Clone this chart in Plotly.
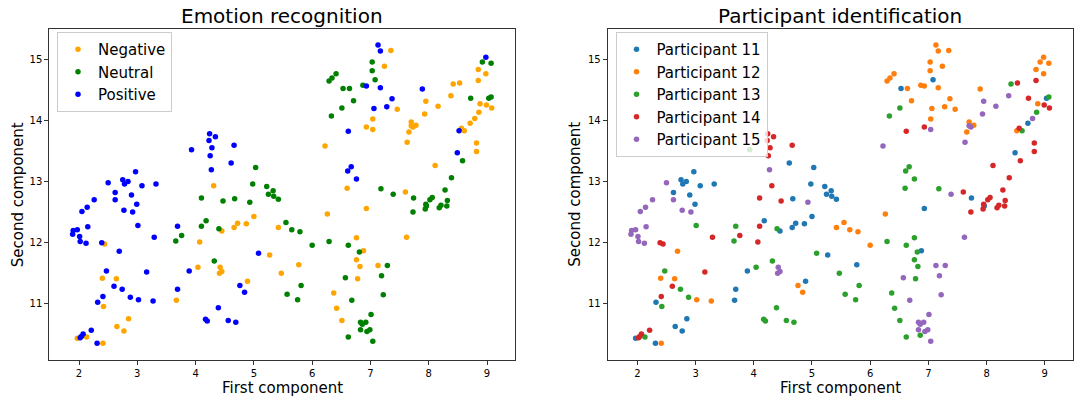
import plotly.graph_objects as go

# UMAP-style 2D embedding, one entry per sample
first_component = [
    4.24, 4.23, 4.34, 4.28, 3.93, 4.66, 4.25, 4.61, 4.27, 2.97, 2.50, 2.75, 2.84, 2.78, 3.08,
    3.32, 2.62, 2.90, 2.26, 2.62, 4.31, 5.03, 4.98, 5.22, 5.25, 5.33, 5.34, 5.42, 2.77, 2.92,
    2.99, 2.05, 2.14, 2.15, 3.01, 3.69, 3.29, 1.89, 1.90, 1.97, 2.01, 2.02, 2.12, 2.39, 2.69,
    2.47, 3.16, 3.89, 2.60, 2.74, 3.69, 2.41, 2.32, 2.88, 3.02, 3.27, 4.39, 4.76, 4.84, 4.17,
    4.20, 4.56, 4.69, 2.21, 2.07, 2.04, 2.02, 2.31, 2.44, 2.40, 2.64, 2.42, 2.85, 2.65, 2.77,
    1.97, 2.13, 2.41, 3.67, 4.07, 4.04, 4.42, 4.45, 4.41, 4.72, 4.66, 4.45, 4.87, 5.00, 4.89,
    5.27, 4.10, 4.47, 4.67, 4.93, 4.10, 4.18, 4.40, 3.76, 3.66, 4.32, 5.08, 7.13, 7.17, 8.98,
    6.93, 7.17, 7.89, 7.37, 7.06, 7.28, 6.62, 8.52, 8.49, 6.67, 6.61, 6.76, 6.60, 7.35, 7.24,
    6.22, 6.93, 7.04, 7.04, 7.46, 7.95, 7.93, 8.16, 8.42, 8.53, 8.38, 8.85, 8.98, 8.85, 8.88,
    8.99, 9.08, 8.86, 8.79, 8.71, 8.56, 8.61, 7.70, 7.73, 7.78, 7.70, 7.66, 7.63, 8.82, 8.82,
    8.11, 7.60, 7.03, 7.03, 7.08, 6.41, 6.34, 6.29, 6.53, 6.64, 6.87, 6.71, 6.51, 6.33, 8.92,
    9.07, 8.72, 9.03, 9.07, 8.58, 8.39, 7.18, 7.39, 7.74, 8.06, 8.28, 7.95, 7.96, 7.73, 8.18,
    8.21, 8.31, 8.32, 8.02, 7.94, 6.93, 5.42, 5.55, 5.65, 5.79, 6.00, 6.29, 6.62, 6.81, 7.29,
    7.19, 6.57, 5.81, 5.57, 5.75, 6.68, 7.22, 7.01, 6.83, 6.86, 6.92, 6.83, 6.94, 6.99, 6.62,
    7.04, 6.26, 5.47, 5.77, 6.76, 6.88, 6.76, 6.82, 6.78, 7.13, 7.62, 6.37, 6.42, 6.51, 6.86,
]
second_component = [
    13.78, 13.67, 13.73, 13.55, 13.52, 13.59, 13.42, 13.30, 13.19, 13.16, 12.98, 13.03, 13.00, 12.96, 12.93,
    12.96, 12.82, 12.78, 12.70, 12.70, 12.93, 13.23, 12.96, 12.92, 12.79, 12.85, 12.76, 12.71, 12.53, 12.50,
    12.63, 12.51, 12.58, 12.26, 12.28, 12.27, 12.09, 12.14, 12.20, 12.21, 12.10, 12.02, 11.99, 12.00, 11.86,
    11.54, 11.52, 11.54, 11.29, 11.24, 11.24, 11.12, 11.03, 11.11, 11.07, 11.05, 10.94, 11.30, 11.19, 10.75,
    10.72, 10.73, 10.70, 10.57, 10.51, 10.47, 10.45, 10.36, 11.98, 11.42, 11.41, 10.96, 10.76, 10.63, 10.56,
    10.44, 10.46, 10.36, 11.06, 12.01, 11.60, 11.60, 11.53, 11.50, 12.32, 12.25, 12.19, 12.31, 12.43, 11.37,
    11.80, 12.73, 12.68, 12.72, 12.66, 12.27, 12.36, 12.23, 12.12, 12.03, 11.70, 11.83, 15.23, 15.13, 15.03,
    14.56, 14.53, 14.51, 14.35, 14.19, 14.22, 13.82, 13.83, 13.47, 13.24, 13.17, 13.04, 12.89, 15.14, 14.88,
    13.58, 13.89, 13.85, 14.02, 14.18, 14.31, 14.10, 14.23, 14.59, 14.61, 14.40, 14.83, 14.76, 14.65, 14.27,
    14.25, 14.20, 14.13, 14.03, 13.95, 13.87, 13.83, 13.97, 13.89, 13.92, 13.91, 13.81, 13.64, 13.63, 13.49,
    13.26, 12.83, 14.95, 14.81, 14.66, 14.76, 14.69, 14.64, 14.52, 14.52, 14.57, 14.32, 14.20, 14.07, 14.95,
    14.93, 14.36, 14.36, 14.38, 13.34, 13.06, 12.88, 12.79, 12.73, 12.74, 12.86, 12.63, 12.60, 12.50, 12.57,
    12.61, 12.60, 12.69, 12.70, 12.55, 12.56, 12.25, 12.33, 12.21, 12.18, 11.96, 12.02, 11.96, 11.85, 11.63,
    11.46, 11.43, 11.30, 11.16, 11.07, 11.06, 11.15, 10.83, 10.70, 10.67, 10.70, 10.58, 10.55, 10.58, 10.46,
    10.39, 12.47, 11.50, 11.64, 12.08, 11.87, 11.72, 11.61, 11.41, 11.63, 12.09, 11.18, 10.93, 10.73, 10.49,
]
# N = Negative, U = Neutral, P = Positive
emotion = list(
    "PPPPPPPPPPPPPPPPPPPPNUUUUUUUPP"
    "PPPPPPPPPPPPPPPPPPPPPPPPPPPPPP"
    "PPPPPPPPNNNNNNNNNNNNNNNNNNNNNN"
    "NUUUUUUUUUUPPPPPPPPPPPPPPPPNNN"
    "NNNNNNNNNNNNNNNNNNNNNNNNNNNNNN"
    "NNUUUUUUUUUUUUUUUUUUUUUUUUUUUU"
    "UUUUUNNUUUUUUUUUUUUUUUUUUUUUUU"
    "UNNNNNNNNNNNNN"
)
participant = [
    14, 14, 14, 14, 13, 14, 14, 11, 15, 11, 15, 11, 11, 11, 11,
    11, 11, 11, 15, 15, 14, 11, 11, 11, 11, 11, 11, 11, 15, 15,
    11, 15, 15, 15, 13, 13, 14, 15, 15, 15, 15, 15, 15, 14, 12,
    13, 14, 11, 14, 13, 11, 14, 11, 13, 12, 12, 13, 12, 12, 13,
    13, 13, 13, 14, 14, 14, 14, 11, 14, 12, 12, 13, 11, 11, 11,
    11, 13, 12, 11, 14, 13, 15, 15, 15, 11, 11, 11, 11, 11, 11,
    11, 14, 14, 11, 15, 14, 11, 13, 14, 13, 13, 13, 12, 12, 12,
    12, 12, 12, 12, 12, 12, 14, 12, 11, 13, 13, 13, 13, 12, 12,
    15, 14, 15, 12, 12, 15, 15, 15, 13, 14, 15, 12, 12, 14, 12,
    14, 14, 13, 15, 11, 14, 13, 12, 15, 12, 15, 12, 15, 14, 14,
    14, 14, 12, 12, 11, 12, 12, 12, 11, 12, 12, 12, 13, 13, 12,
    12, 14, 11, 13, 14, 14, 13, 15, 11, 14, 14, 14, 11, 14, 14,
    14, 14, 14, 14, 14, 11, 12, 12, 12, 12, 12, 13, 13, 13, 15,
    15, 15, 13, 13, 13, 15, 15, 15, 15, 15, 15, 15, 15, 15, 13,
    15, 12, 13, 11, 13, 11, 13, 13, 13, 15, 15, 13, 13, 13, 13,
]

emotion_labels = {"N": "Negative", "U": "Neutral", "P": "Positive"}
emotion_colors = {"N": "orange", "U": "green", "P": "blue"}
participant_ids = [11, 12, 13, 14, 15]
participant_colors = ["#1f77b4", "#ff7f0e", "#2ca02c", "#d62728", "#9467bd"]

W, H = 1084, 404
FONT = "DejaVu Sans"
DOT = 5.5

fig = go.Figure()

# left: coloured by emotion
for code in ["N", "U", "P"]:
    idx = [i for i, e in enumerate(emotion) if e == code]
    fig.add_trace(go.Scatter(
        x=[first_component[i] for i in idx],
        y=[second_component[i] for i in idx],
        mode="markers", name=emotion_labels[code],
        marker=dict(color=emotion_colors[code], size=DOT, line=dict(width=0)),
        xaxis="x", yaxis="y", legend="legend",
    ))

# right: coloured by participant
for pid, col in zip(participant_ids, participant_colors):
    idx = [i for i, p in enumerate(participant) if p == pid]
    fig.add_trace(go.Scatter(
        x=[first_component[i] for i in idx],
        y=[second_component[i] for i in idx],
        mode="markers", name=f"Participant {pid}",
        marker=dict(color=col, size=DOT, line=dict(width=0)),
        xaxis="x2", yaxis="y2", legend="legend2",
    ))

axis_common = dict(
    showline=True, mirror=True, linecolor="#333", linewidth=1,
    ticks="outside", ticklen=4, tickcolor="#333",
    showgrid=False, zeroline=False,
    tickfont=dict(family=FONT, size=10, color="black"),
)
xr = [1.49, 9.48]
yr = [10.085, 15.485]
y_dom = [1 - 360 / H, 1 - 29.3 / H]
left_dom = [49.3 / W, 515 / W]
right_dom = [607.7 / W, 1072.7 / W]

legend_common = dict(
    bgcolor="rgba(255,255,255,0.8)", bordercolor="#ccc", borderwidth=1,
    font=dict(family=FONT, size=15, color="black"),
    xanchor="left", yanchor="top", itemwidth=30, tracegroupgap=0,
)


def text_note(text, x, y, size, angle=0, yanchor="middle"):
    return dict(text=text, x=x, y=y, xref="paper", yref="paper",
                xanchor="center", yanchor=yanchor, textangle=angle,
                showarrow=False, font=dict(family=FONT, size=size, color="black"))


annotations = []
for dom, title, ylab_x in [(left_dom, "Emotion recognition", 17.5),
                           (right_dom, "Participant identification", 575)]:
    mid = (dom[0] + dom[1]) / 2
    annotations.append(text_note(title, mid, 1 - 16 / H, 20))
    annotations.append(text_note("First component", mid, 1 - 388 / H, 15))
    annotations.append(text_note("Second component", ylab_x / W, (y_dom[0] + y_dom[1]) / 2, 15, angle=-90))

fig.update_layout(
    width=W, height=H,
    margin=dict(l=0, r=0, t=0, b=0),
    paper_bgcolor="white", plot_bgcolor="white",
    font=dict(family=FONT, color="black"),
    xaxis=dict(domain=left_dom, range=xr, dtick=1, anchor="y", **axis_common),
    yaxis=dict(domain=y_dom, range=yr, dtick=1, anchor="x", **axis_common),
    xaxis2=dict(domain=right_dom, range=xr, dtick=1, anchor="y2", **axis_common),
    yaxis2=dict(domain=y_dom, range=yr, dtick=1, anchor="x2", **axis_common),
    legend=dict(x=57 / W, y=1 - 32 / H, **legend_common),
    legend2=dict(x=615.5 / W, y=1 - 32 / H, **legend_common),
    annotations=annotations,
)

# the page's default body margin would push the figure 8px off
fig.write_html("out.html", config={"displayModeBar": False},
               post_script="document.body.style.margin = '0';")
